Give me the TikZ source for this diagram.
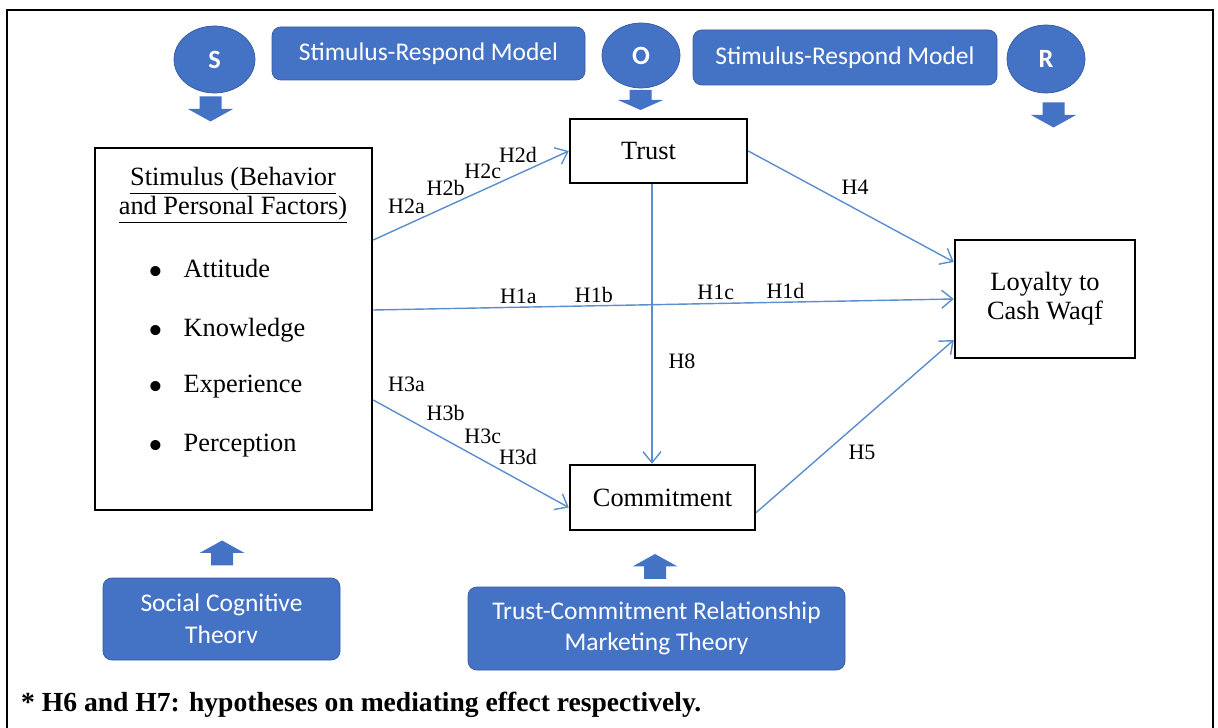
\documentclass[tikz,border=0pt]{standalone}
\usepackage{fontspec}
\setmainfont{Liberation Serif}
\newfontfamily\calfont{Carlito}
\usetikzlibrary{positioning, arrows.meta, calc, shapes.geometric}
\definecolor{srblue}{RGB}{68,114,196}
\definecolor{linkblue}{RGB}{91,141,207}
\newcommand\stimitem[1]{\llap{\raisebox{-4.6pt}{\fontsize{24}{24}\selectfont\textbullet}\hspace{0.4cm}}#1}

\begin{document}
\begin{tikzpicture}[>={Straight Barb[length=2.2mm,width=3.6mm]},
  boxtext/.style={font=\fontsize{15}{16.5}\selectfont},
  construct/.style={draw, line width=1.4pt, align=center, boxtext, inner sep=2pt},
  theory/.style={fill=srblue, draw=srblue!80!black, rounded corners=5pt, text=white, align=center, inner sep=2pt,
    font=\calfont\fontsize{14.5}{18}\selectfont},
  stage/.style={ellipse, fill=srblue, draw=srblue!80!black, text=white, minimum width=1.56cm, minimum height=1.34cm, inner sep=0pt,
    font=\calfont\bfseries\fontsize{15}{18}\selectfont},
  link/.style={->, draw=linkblue, line width=0.8pt},
  hyp/.style={font=\fontsize{12.5}{14}\selectfont, inner sep=1pt},
  blockdown/.pic={\fill[srblue] (-0.22,0.25) -- (0.22,0.25) -- (0.22,0) -- (0.45,0) -- (0,-0.25) -- (-0.45,0) -- (-0.22,0) -- cycle;}]
  \useasboundingbox (0,0) rectangle (24.36,-14.56);
  \draw[line width=1.6pt] (0.14,-14.7) -- (0.14,-0.2) -- (24.26,-0.2) -- (24.26,-14.7);

  % S-O-R header
  \node[stage, minimum width=1.62cm] (s) at (4.29,-1.19) {S};
  \node[theory, minimum width=6.26cm, minimum height=1.06cm] (srm1) at (8.57,-1.07) {Stimulus-Respond Model};
  \node[stage, minimum height=1.3cm] (o) at (12.82,-1.11) {O};
  \node[theory, minimum width=6.08cm, minimum height=1.1cm] (srm2) at (16.9,-1.15) {Stimulus-Respond Model};
  \node[stage, minimum height=1.36cm] (r) at (20.92,-1.18) {R};
  \pic at (4.21,-2.18) {blockdown};
  \pic[yscale=0.8] at (12.81,-2.0) {blockdown};
  \pic at (21.07,-2.3) {blockdown};

  % constructs
  \node[construct, minimum width=5.54cm, minimum height=7.24cm] (stim) at (4.67,-6.58) {};
  \node[boxtext, align=center] (stimtitle) at (4.66,-3.91) {\underline{Stimulus (Behavior}\\\underline{and Personal Factors)}};
  \node[boxtext, anchor=west] (att) at (3.55,-5.44) {\stimitem{Attitude}};
  \node[boxtext, anchor=west] (know) at (3.55,-6.62) {\stimitem{Knowledge}};
  \node[boxtext, anchor=west] (exper) at (3.55,-7.76) {\stimitem{Experience}};
  \node[boxtext, anchor=west] (perc) at (3.55,-8.94) {\stimitem{Perception}};
  \node[construct, minimum width=3.54cm, minimum height=1.28cm] (trust) at (13.17,-3.02) {Trust\hspace*{0.4cm}};
  \node[construct, minimum width=3.7cm, minimum height=1.3cm] (commit) at (13.25,-9.95) {Commitment};
  \node[construct, minimum width=3.6cm, minimum height=2.36cm] (loyal) at (20.9,-5.98) {Loyalty to\\Cash Waqf};

  % theories
  \node[theory, minimum width=4.74cm, minimum height=1.64cm] (sct) at (4.43,-12.38) {Social Cognitive\\Theorv};
  \node[theory, minimum width=7.54cm, minimum height=1.66cm] (tcrm) at (13.13,-12.57) {Trust-Commitment Relationship\\Marketing Theory};
  \pic[rotate=180] at (4.44,-11.06) {blockdown};
  \pic[rotate=180] at (13.1,-11.33) {blockdown};

  % hypotheses
  \draw[link] ([yshift=1.78cm]stim.east) -- (trust.west)
    node[hyp, pos=.17, above=5pt] {H2a} node[hyp, pos=.37, above=5pt] {H2b}
    node[hyp, pos=.56, above=5pt] {H2c} node[hyp, pos=.74, above=5pt] {H2d};
  \draw[link] ([yshift=0.38cm]stim.east) -- (loyal.west)
    node[hyp, pos=.25, above=0.5pt] {H1a} node[hyp, pos=.38, above=0.5pt] {H1b}
    node[hyp, pos=.59, above=0.5pt] {H1c} node[hyp, pos=.71, above=0.5pt] {H1d};
  \draw[link] ([yshift=-1.42cm]stim.east) -- ([yshift=-0.2cm]commit.west)
    node[hyp, pos=.17, above=13.5pt] {H3a} node[hyp, pos=.37, above=9.5pt] {H3b}
    node[hyp, pos=.56, above=8pt] {H3c} node[hyp, pos=.74, above=7pt] {H3d};
  \draw[link] (trust.east) -- ([yshift=0.74cm]loyal.west) node[hyp, pos=.52, above=6.5pt] {H4};
  \draw[link] ($(trust.south)+(-0.13,0)$) -- ($(trust.south |- commit.north)+(-0.13,0)$)
    node[hyp, pos=.635, right=8pt] {H8};
  \draw[link] ([yshift=-0.3cm]commit.east) -- ([yshift=-0.82cm]loyal.west) node[hyp, pos=.535, below=13pt] {H5};

  \node[font=\bfseries\fontsize{15.7}{17}\selectfont, anchor=west] (note) at (0.3,-14.1)
    {* H6 and H7: hypotheses on mediating effect respectively.};
\end{tikzpicture}
\end{document}
